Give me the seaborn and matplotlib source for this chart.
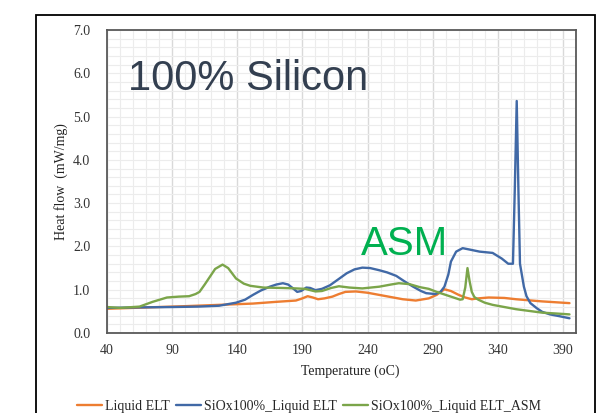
import numpy as np
import pandas as pd
import matplotlib
matplotlib.use("Agg")
import matplotlib.pyplot as plt
import seaborn as sns
from matplotlib.ticker import MultipleLocator, FixedLocator
from matplotlib.patches import Rectangle
from matplotlib.lines import Line2D

# ---------------- data ----------------
series_names = ["Liquid ELT", "SiOx100%_Liquid ELT", "SiOx100%_Liquid ELT_ASM"]

orange_T = [40, 60, 80, 100, 126, 152, 170, 185, 190, 194, 198, 202, 207, 213, 218, 223, 231,
            240, 249, 258, 267, 277, 287, 293, 299, 304, 310, 315, 320, 325, 333, 345, 354, 374, 395]
orange_v = [0.56, 0.58, 0.60, 0.62, 0.65, 0.68, 0.72, 0.75, 0.80, 0.85, 0.82, 0.78, 0.80, 0.84, 0.90, 0.95, 0.96,
            0.93, 0.88, 0.83, 0.78, 0.75, 0.80, 0.88, 1.01, 0.97, 0.88, 0.82, 0.78, 0.80, 0.82, 0.81, 0.78, 0.73, 0.69]

blue_T = [40, 60, 90, 110, 126, 139, 146, 152, 158, 165, 170, 175, 179, 182, 186, 189, 193, 196, 200, 205,
          211, 218, 224, 230, 236, 242, 249, 255, 262, 268, 275, 281, 285, 292, 296, 299, 302, 304, 308,
          313, 318, 326, 336, 343, 348, 351.6, 353, 354.5, 355.8, 357, 360, 362, 365, 370, 374, 380, 387, 395]
blue_v = [0.58, 0.59, 0.60, 0.61, 0.63, 0.70, 0.77, 0.88, 0.98, 1.07, 1.12, 1.15, 1.12, 1.05, 0.95, 0.97, 1.05, 1.04, 0.99, 1.02,
          1.10, 1.25, 1.38, 1.47, 1.51, 1.50, 1.45, 1.40, 1.32, 1.20, 1.07, 0.97, 0.92, 0.90, 0.95, 1.07, 1.35, 1.65, 1.88,
          1.96, 1.93, 1.88, 1.85, 1.72, 1.60, 1.60, 3.30, 5.36, 3.30, 1.60, 1.07, 0.85, 0.69, 0.57, 0.49, 0.43, 0.39, 0.34]

green_T = [40, 50, 65, 75, 86, 95, 103, 108, 111, 115, 119, 123, 128.7, 133, 139, 145, 150, 160, 175, 185,
           192, 200, 205, 212, 218, 226, 236, 249, 258, 264, 272, 280, 287, 293, 300, 306, 311, 313, 315,
           316.7, 318.3, 320, 322, 325, 330, 336, 345, 354, 364, 374, 385, 395]
green_v = [0.60, 0.58, 0.61, 0.72, 0.82, 0.84, 0.85, 0.90, 0.95, 1.12, 1.30, 1.48, 1.58, 1.50, 1.26, 1.14, 1.09, 1.05, 1.04, 1.03,
           1.02, 0.96, 0.97, 1.04, 1.08, 1.05, 1.03, 1.07, 1.12, 1.15, 1.13, 1.06, 1.02, 0.95, 0.88, 0.82, 0.77, 0.78, 1.05,
           1.50, 1.20, 0.95, 0.83, 0.77, 0.70, 0.65, 0.60, 0.55, 0.51, 0.47, 0.45, 0.43]

x_ticks = [40, 90, 140, 190, 240, 290, 340, 390]
y_ticks = [0.0, 1.0, 2.0, 3.0, 4.0, 5.0, 6.0, 7.0]

colors = ["#ED7D31", "#4169A6", "#7BA54A"]

# ---------------- build long-form table ----------------
frames = []
for name, T, v in zip(series_names, [orange_T, blue_T, green_T], [orange_v, blue_v, green_v]):
    frames.append(pd.DataFrame({"T": T, "v": v, "series": name}))
df = pd.concat(frames, ignore_index=True)

sns.set_theme(style="white")
plt.rcParams['font.family'] = ['Liberation Serif', 'DejaVu Serif']

W, H = 597, 413
fig = plt.figure(figsize=(W / 100, H / 100), dpi=100)
L, R, T_, B = 107, 576, 30, 333
ax = fig.add_axes([L / W, (H - B) / H, (R - L) / W, (B - T_) / H])

sns.lineplot(data=df, x="T", y="v", hue="series", palette=dict(zip(series_names, colors)),
             estimator=None, sort=False, linewidth=1.7, ax=ax, legend=False)

ax.set_xlim(40, 400)
ax.set_ylim(0, 7)
ax.xaxis.set_major_locator(FixedLocator(x_ticks))
ax.xaxis.set_minor_locator(MultipleLocator(10))
ax.yaxis.set_major_locator(FixedLocator(y_ticks))
ax.yaxis.set_minor_locator(MultipleLocator(0.2))
ax.set_xticklabels([str(t) for t in x_ticks])
ax.set_yticklabels([f"{t:.1f}" for t in y_ticks])

ax.grid(which="major", axis="x", color="#d9d9d9", linewidth=1.0)
ax.grid(which="major", axis="y", color="#ececec", linewidth=0.8)
ax.grid(which="minor", color="#ececec", linewidth=0.8)
ax.set_axisbelow(True)

for s in ax.spines.values():
    s.set_color("#595959")
    s.set_linewidth(1.3)

ax.tick_params(axis="x", which="major", direction="out", length=4, width=1, color="#595959",
               labelsize=10, pad=4, labelcolor="#333333")
ax.tick_params(axis="y", which="major", direction="in", length=4, width=1, color="#595959",
               labelsize=10, pad=12, labelcolor="#333333")
ax.tick_params(which="minor", length=0)

ax.set_xlabel("Temperature (oC)", fontsize=10, color="#222222")
ax.set_ylabel("Heat flow  (mW/mg)", fontsize=10, color="#222222")
ax.xaxis.set_label_coords((350 - L) / (R - L), -0.105)
ax.yaxis.set_label_coords((68 - L) / (R - L), 0.5)

# annotations
fig.text(128 / W, 1 - 90 / H, "100% Silicon", fontsize=30, color="#333F50",
         family=["Liberation Sans", "DejaVu Sans"], va="baseline", ha="left")
fig.text(361 / W, 1 - 255 / H, "ASM", fontsize=29, color="#00B050",
         family=["Liberation Sans", "DejaVu Sans"], va="baseline", ha="left")

# legend
handles = [Line2D([0], [0], color=c, lw=1.7) for c in colors]
fig.legend(handles, series_names, loc="center", bbox_to_anchor=(309 / W, 6.5 / H),
           bbox_transform=fig.transFigure, ncol=3, frameon=False, fontsize=10,
           handlelength=1.8, handletextpad=0.2, columnspacing=0.45, borderaxespad=0, borderpad=0)

# outer border
fig.patches.append(Rectangle((36 / W, -0.05), (595 - 36) / W, (H - 15) / H + 0.05,
                             transform=fig.transFigure, fill=False, ec="black", lw=1.3))

fig.savefig("out.png", dpi=100)
